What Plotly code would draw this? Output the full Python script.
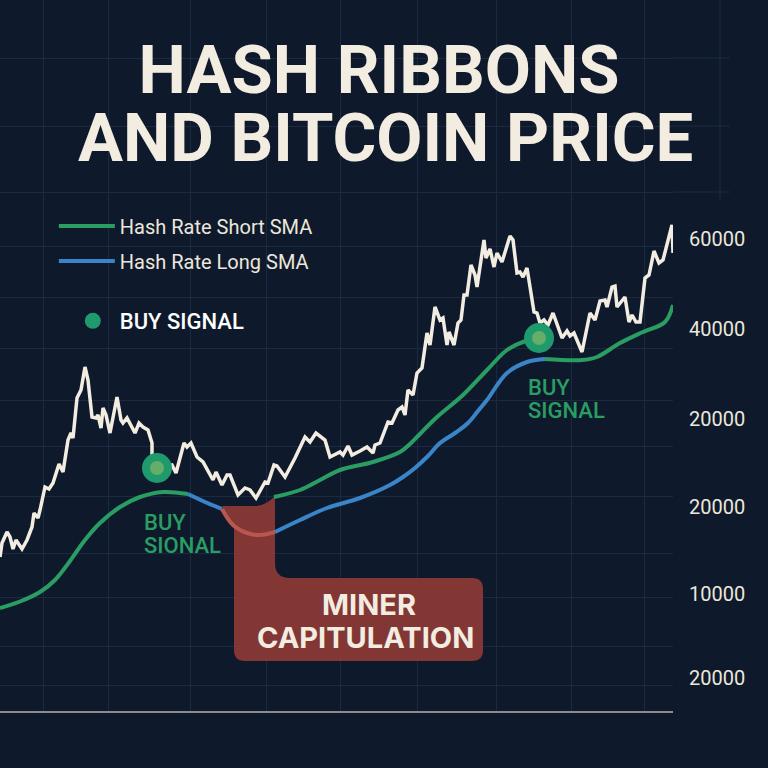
import plotly.graph_objects as go

# Chart data (week index along x, price-style level along y)
week_price = [0,2,7,10,13,16,18,22,27,32,34,38,40,45,49,53,59,63,68,71,73,77,81,85,88,92,96,98,101,103,106,110,117,121,123,127,135,139,143,148,152,152,
              157,172,176,184,187,191,197,203,213,216,222,227,230,238,245,250,256,265,268,274,277,285,295,305,310,316,325,330,
              340,343,348,352,360,367,373,375,380,388,392,398,402,405,408,413,417,422,427,430,435,440,443,447,449,454,458,461,464,467,471,475,477,484,486,490,494,497,502,510,513,517,520,523,527,532,534,537,540,544,548,553,562,567,570,574,582,590,595,600,605,607,612,615,617,625,629,632,636,640,645,649,654,659,663,672,673]
price = [21100,22500,23600,23100,21900,22800,22500,21900,22800,24100,25500,25000,25800,28100,27900,28500,30400,29600,32800,33500,33000,37000,37800,40100,38800,35100,35000,35300,34000,36000,35300,33500,37100,34800,34500,35000,33500,34500,34100,33800,32500,31100,
         30000,30300,29500,32500,32100,32500,31100,30600,28800,29600,28300,29300,29300,27300,28000,27800,27000,28600,28500,30300,30200,29100,31000,33100,32600,33500,32800,31100,
         31600,31300,32200,31300,31700,32100,31500,32300,32500,34600,34500,35800,36100,35300,37800,37300,39500,40000,43500,42300,46100,44800,45000,42300,43600,42300,44500,44800,47300,47300,50300,49300,48100,52800,51000,51900,50100,51500,50600,53200,52800,49500,49600,49100,50000,46800,45600,45500,44500,44800,44300,45500,43000,43700,43200,43500,41600,45500,44800,46700,46800,46100,48100,48200,46100,47100,44600,45300,44600,44600,49000,49300,51700,50500,50800,54300,51500]

week_short_a = [0,20,40,55,70,85,100,120,140,163,188]
short_a = [16000,16650,17600,18800,20700,22800,24500,26100,27100,27600,27400]
week_long_a = [188,205,222]
long_a = [27400,26600,25900]
week_capitulation = [222,233,247,260,275]
capitulation = [25900,24300,23500,23300,23600]
week_long_b = [275,300,327,360,390,403,415,428,440,455,468,478,487,507,527,545]
long_b = [23600,24800,26000,27000,28300,29100,30000,31200,32500,33500,34500,35700,36800,39500,40600,40900]
week_short_b = [274,300,320,340,373,400,410,420,437,463,487,507,523,539]
short_b = [27100,27800,28800,29800,30600,31600,32400,33400,35100,37300,39800,41800,42600,43000]
week_short_c = [545,582,597,620,643,665,673]
short_c = [40900,40800,41100,42500,43600,44600,46300]
week_signal = [157,539]
signal = [30000,43000]

y_tick_levels = [52900,43900,34900,26100,17400,9000]
y_tick_labels = ["60000","40000","20000","20000","10000","20000"]
x_grid_weeks = [43,108,190,266,340,417,496,571,644]
y_grid_levels = [8300,12200,17100,21500,27200,32200,36800,42000,47100,52200,57600,64200,71000]

BG = "#0e1a2b"; GRID = "#1b2a41"; CREAM = "#f3ece0"
GREEN = "#2a9d63"; BLUE = "#3a85c8"
TITLE_FONT = "Roboto"

Y_TOP, Y_BOTTOM = 76800, 5700
def lv(py):
    return (768 - py) * 100

fig = go.Figure()
fig.add_trace(go.Scatter(x=week_short_a, y=short_a, mode="lines", line=dict(color=GREEN, width=4, shape="spline"),
                         name="Hash Rate Short SMA", legend="legend"))
fig.add_trace(go.Scatter(x=week_short_b, y=short_b, mode="lines", line=dict(color=GREEN, width=4, shape="spline"), showlegend=False))
fig.add_trace(go.Scatter(x=week_short_c, y=short_c, mode="lines", line=dict(color=GREEN, width=4, shape="spline"), showlegend=False))
fig.add_trace(go.Scatter(x=week_long_a, y=long_a, mode="lines", line=dict(color=BLUE, width=4, shape="spline"),
                         name="Hash Rate Long SMA", legend="legend2"))
fig.add_trace(go.Scatter(x=week_long_b, y=long_b, mode="lines", line=dict(color=BLUE, width=4, shape="spline"), showlegend=False))
fig.add_trace(go.Scatter(x=week_capitulation, y=capitulation, mode="lines", line=dict(color="#b9574f", width=4, shape="spline"), showlegend=False))
fig.add_trace(go.Scatter(x=week_price, y=price, mode="lines", line=dict(color=CREAM, width=3.5), showlegend=False))
fig.add_trace(go.Scatter(x=week_signal, y=signal, mode="markers", marker=dict(color="#1f9a6c", size=30),
                         name="BUY SIGNAL", legend="legend3"))
fig.add_trace(go.Scatter(x=week_signal, y=signal, mode="markers", marker=dict(color="#66ad6a", size=14), showlegend=False))

def p(px, py):
    return f"{px},{lv(py)}"

band = ("M " + p(222,506) + " L " + p(257,506) + " Q " + p(266,505) + " " + p(275,496) +
        " L " + p(275,563) + " Q " + p(275,578) + " " + p(290,578) +
        " L " + p(472,578) + " Q " + p(483,578) + " " + p(483,589) +
        " L " + p(483,650) + " Q " + p(483,661) + " " + p(472,661) +
        " L " + p(245,661) + " Q " + p(234,661) + " " + p(234,650) +
        " L " + p(234,528) + " Z")
fig.add_shape(type="path", path=band, xref="x", yref="y", fillcolor="#873836", line=dict(width=0), opacity=0.96, layer="between")

def pap_y(py):
    return 1 - py / 711
def pap_x(px):
    return px / 673

# faint grid continuing past the plot edge behind the title
for gy in (58, 126, 192):
    fig.add_shape(type="line", xref="paper", yref="paper", x0=1, x1=pap_x(730), y0=pap_y(gy), y1=pap_y(gy),
                  line=dict(color=GRID, width=1), layer="below")
fig.add_shape(type="line", xref="paper", yref="paper", x0=pap_x(720), x1=pap_x(720), y0=pap_y(0), y1=pap_y(200),
              line=dict(color=GRID, width=1), layer="below")

fig.update_layout(
    width=768, height=768, margin=dict(l=0, r=95, t=0, b=57),
    paper_bgcolor=BG, plot_bgcolor=BG,
    font=dict(family="Roboto", color="#ece7dc"),
    title=dict(text="HASH RIBBONS", x=pap_x(379), xanchor="center", xref="paper", y=1-70/768, yanchor="middle", yref="container",
               font=dict(family=TITLE_FONT, size=67, color=CREAM, weight=700)),
    xaxis=dict(range=[0,673], tickvals=x_grid_weeks, showticklabels=False, ticks="", showgrid=True, gridcolor=GRID, gridwidth=1,
               zeroline=False, showline=True, linecolor="#8c8c8a", linewidth=2),
    yaxis=dict(range=[Y_BOTTOM, Y_TOP], side="right", tickvals=y_tick_levels, ticktext=y_tick_labels, ticks="", ticklabelstandoff=15,
               tickfont=dict(family="Roboto", size=20, color="#ece7dc"), showgrid=False, zeroline=False, showline=False,
               minor=dict(tickvals=y_grid_levels, showgrid=True, gridcolor=GRID, gridwidth=1, ticks="")),
    legend=dict(x=0.08, y=pap_y(226), xref="paper", yref="paper", xanchor="left", yanchor="middle", bgcolor="rgba(0,0,0,0)",
                font=dict(family="Roboto", size=20, color="#ece7dc"), itemwidth=56),
    legend2=dict(x=0.08, y=pap_y(261), xref="paper", yref="paper", xanchor="left", yanchor="middle", bgcolor="rgba(0,0,0,0)",
                 font=dict(family="Roboto", size=20, color="#ece7dc"), itemwidth=56),
    legend3=dict(x=0.0978, y=pap_y(321), xref="paper", yref="paper", xanchor="left", yanchor="middle", bgcolor="rgba(0,0,0,0)", itemsizing="trace",
                 font=dict(family="Roboto", size=22, color="#ffffff", weight=500), itemwidth=44),
    showlegend=True,
)

def note(text, x, y, size, color, family="Roboto", anchor="left", weight=None):
    f = dict(family=family, size=size, color=color)
    if weight:
        f["weight"] = weight
    fig.add_annotation(text=text, x=x, y=lv(y), xref="x", yref="y", showarrow=False, xanchor=anchor, yanchor="middle", font=f)

note("AND BITCOIN PRICE", 385, 138, 67, CREAM, TITLE_FONT, "center", 700)
note("BUY", 142, 522, 22, GREEN, weight=500)
note("SIONAL", 142, 545, 22, GREEN, weight=500)
note("BUY", 526, 387, 22, GREEN, weight=500)
note("SIGNAL", 526, 410, 22, GREEN, weight=500)
note("<b>MINER</b>", 369, 604, 29, CREAM, "Inter", "center")
note("<b>CAPITULATION</b>", 365, 637, 29, CREAM, "Inter", "center")

fig.write_html("out.html", config=dict(displayModeBar=False),
               post_script="document.body.style.margin='0';document.body.style.background='%s';document.documentElement.style.overflow='hidden';" % BG)
